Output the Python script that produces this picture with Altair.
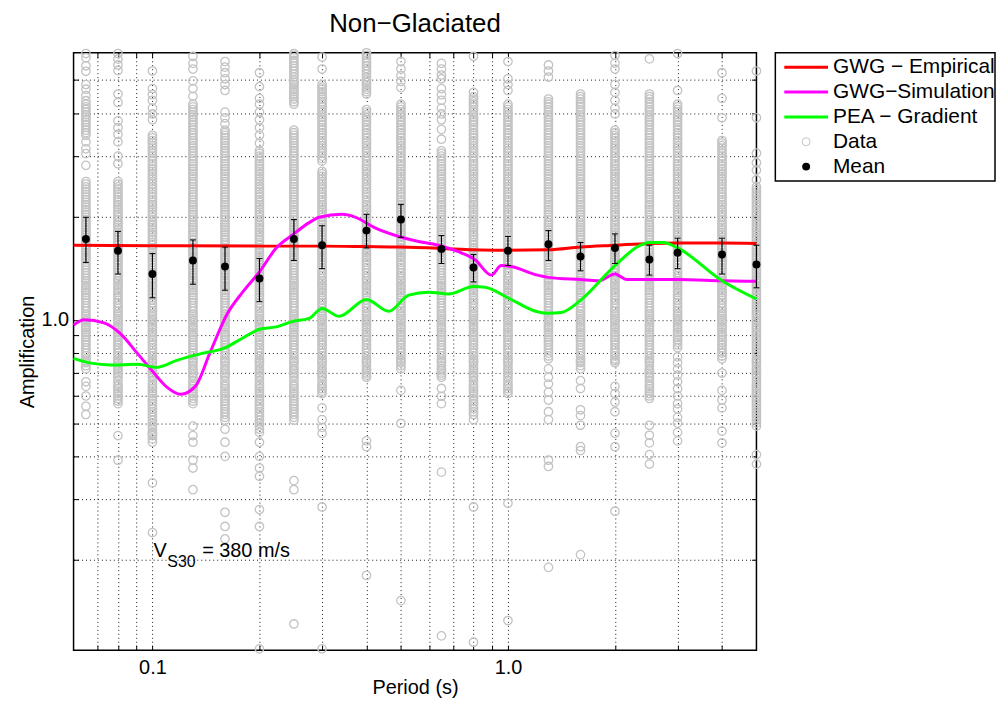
import altair as alt
import pandas as pd

FONT = "Liberation Sans"

# ---------------- data ----------------
PERIODS = [0.065, 0.08, 0.1, 0.13, 0.16, 0.2, 0.25, 0.3, 0.4, 0.5,
           0.65, 0.8, 1.0, 1.3, 1.6, 2.0, 2.5, 3.0, 4.0, 5.0]

A_0065 = [5.97, 5.8, 5.5, 5.3, 4.85, 4.7, 4.5, 4.35, 4.25, 4.1, 3.96, 3.83, 3.7, 3.57, 3.45, 3.3, 3.15, 3.05, 2.82, 2.53, 2.44, 2.36, 2.28, 2.2, 2.13, 2.06, 1.99, 1.92, 1.86, 1.8, 1.74, 1.68, 1.62, 1.57, 1.52, 1.47, 1.42, 1.37, 1.32, 1.28, 1.24, 1.2, 1.16, 1.12, 1.08, 1.04, 1.01, 0.98, 0.95, 0.92, 0.89, 0.86, 0.83, 0.8, 0.77, 0.75, 0.72, 0.66, 0.64, 0.6, 0.56, 0.53]
A_008 = [5.97, 5.75, 5.53, 5.33, 4.55, 4.3, 3.8, 3.63, 3.47, 3.3, 3.0, 2.85, 2.53, 2.44, 2.36, 2.28, 2.2, 2.13, 2.06, 1.99, 1.92, 1.86, 1.8, 1.74, 1.68, 1.62, 1.57, 1.52, 1.47, 1.42, 1.37, 1.32, 1.28, 1.24, 1.2, 1.16, 1.12, 1.08, 1.04, 1.01, 0.98, 0.95, 0.92, 0.89, 0.86, 0.83, 0.8, 0.77, 0.75, 0.72, 0.7, 0.68, 0.65, 0.63, 0.61, 0.59, 0.57, 0.46, 0.39]
A_010 = [5.31, 4.72, 4.53, 4.36, 4.14, 3.98, 3.83, 3.45, 3.33, 3.22, 3.11, 3.0, 2.9, 2.8, 2.71, 2.62, 2.53, 2.44, 2.36, 2.28, 2.2, 2.13, 2.06, 1.99, 1.92, 1.86, 1.8, 1.74, 1.68, 1.62, 1.57, 1.52, 1.47, 1.42, 1.37, 1.32, 1.28, 1.24, 1.2, 1.16, 1.12, 1.08, 1.04, 1.01, 0.98, 0.95, 0.92, 0.89, 0.86, 0.83, 0.8, 0.77, 0.75, 0.72, 0.7, 0.68, 0.65, 0.63, 0.61, 0.59, 0.57, 0.55, 0.53, 0.51, 0.49, 0.47, 0.46, 0.44, 0.335, 0.24]
A_013 = [5.86, 5.59, 5.38, 4.97, 4.72, 4.48, 4.25, 4.1, 3.96, 3.83, 3.7, 3.57, 3.45, 3.33, 3.22, 3.11, 3.0, 2.9, 2.8, 2.71, 2.62, 2.53, 2.44, 2.36, 2.28, 2.2, 2.13, 2.06, 1.99, 1.92, 1.86, 1.8, 1.74, 1.68, 1.62, 1.57, 1.52, 1.47, 1.42, 1.37, 1.32, 1.28, 1.24, 1.2, 1.16, 1.12, 1.08, 1.04, 1.01, 0.98, 0.95, 0.92, 0.89, 0.86, 0.83, 0.8, 0.77, 0.75, 0.72, 0.7, 0.68, 0.65, 0.63, 0.61, 0.59, 0.57, 0.49, 0.46, 0.44, 0.39, 0.37, 0.32]
A_016 = [5.66, 5.45, 5.25, 5.04, 4.85, 4.66, 4.03, 3.88, 3.73, 3.57, 3.45, 3.33, 3.22, 3.11, 3.0, 2.9, 2.8, 2.71, 2.62, 2.53, 2.44, 2.36, 2.28, 2.2, 2.13, 2.06, 1.99, 1.92, 1.86, 1.8, 1.74, 1.68, 1.62, 1.57, 1.52, 1.47, 1.42, 1.37, 1.32, 1.28, 1.24, 1.2, 1.16, 1.12, 1.08, 1.04, 1.01, 0.98, 0.95, 0.92, 0.89, 0.86, 0.83, 0.8, 0.77, 0.75, 0.72, 0.7, 0.68, 0.65, 0.63, 0.61, 0.59, 0.57, 0.55, 0.53, 0.51, 0.48, 0.44, 0.4, 0.275, 0.25, 0.23]
A_020 = [5.25, 4.78, 4.42, 4.25, 4.03, 3.83, 3.63, 3.45, 3.27, 3.11, 3.0, 2.9, 2.8, 2.71, 2.62, 2.53, 2.44, 2.36, 2.28, 2.2, 2.13, 2.06, 1.99, 1.92, 1.86, 1.8, 1.74, 1.68, 1.62, 1.57, 1.52, 1.47, 1.42, 1.37, 1.32, 1.28, 1.24, 1.2, 1.16, 1.12, 1.08, 1.04, 1.01, 0.98, 0.95, 0.92, 0.89, 0.86, 0.83, 0.8, 0.77, 0.75, 0.72, 0.7, 0.68, 0.65, 0.63, 0.61, 0.59, 0.57, 0.55, 0.53, 0.51, 0.49, 0.47, 0.44, 0.4, 0.37, 0.35, 0.28, 0.25, 0.11]
A_025 = [5.97, 5.8, 5.6, 5.4, 5.2, 5.0, 4.85, 4.7, 4.55, 4.4, 4.25, 3.57, 3.45, 3.33, 3.22, 3.11, 3.0, 2.9, 2.8, 2.71, 2.62, 2.53, 2.44, 2.36, 2.28, 2.2, 2.13, 2.06, 1.99, 1.92, 1.86, 1.8, 1.74, 1.68, 1.62, 1.57, 1.52, 1.47, 1.42, 1.37, 1.32, 1.28, 1.24, 1.2, 1.16, 1.12, 1.08, 1.04, 1.01, 0.98, 0.95, 0.92, 0.89, 0.86, 0.83, 0.8, 0.77, 0.75, 0.72, 0.7, 0.68, 0.65, 0.63, 0.61, 0.59, 0.57, 0.55, 0.53, 0.51, 0.34, 0.32, 0.13]
A_030 = [5.83, 5.38, 4.85, 4.7, 4.55, 4.4, 4.25, 4.1, 3.96, 3.83, 3.7, 3.57, 3.45, 3.33, 3.22, 3.11, 3.0, 2.9, 2.71, 2.62, 2.53, 2.44, 2.36, 2.28, 2.2, 2.13, 2.06, 1.99, 1.92, 1.86, 1.8, 1.74, 1.68, 1.62, 1.57, 1.52, 1.47, 1.42, 1.37, 1.32, 1.28, 1.24, 1.2, 1.16, 1.12, 1.08, 1.04, 1.01, 0.98, 0.95, 0.92, 0.89, 0.86, 0.83, 0.8, 0.77, 0.75, 0.72, 0.7, 0.68, 0.65, 0.63, 0.61, 0.554, 0.512, 0.486, 0.467, 0.285, 0.11]
A_040 = [6.0, 5.8, 5.6, 5.4, 5.2, 5.0, 4.85, 4.7, 4.55, 4.1, 3.96, 3.83, 3.7, 3.57, 3.45, 3.33, 3.22, 3.11, 3.0, 2.9, 2.8, 2.71, 2.62, 2.53, 2.44, 2.36, 2.28, 2.2, 2.13, 2.06, 1.99, 1.92, 1.86, 1.8, 1.74, 1.68, 1.62, 1.57, 1.52, 1.47, 1.42, 1.37, 1.32, 1.28, 1.24, 1.2, 1.16, 1.12, 1.08, 1.04, 1.01, 0.98, 0.95, 0.92, 0.89, 0.86, 0.83, 0.8, 0.77, 0.75, 0.72, 0.7, 0.68, 0.444, 0.427, 0.18]
A_050 = [5.66, 5.38, 5.15, 4.95, 4.75, 4.25, 4.1, 3.96, 3.83, 3.7, 3.57, 3.45, 3.33, 3.22, 3.11, 3.0, 2.9, 2.8, 2.71, 2.62, 2.53, 2.44, 2.36, 2.28, 2.2, 2.13, 2.06, 1.99, 1.92, 1.86, 1.8, 1.74, 1.68, 1.62, 1.57, 1.52, 1.47, 1.42, 1.37, 1.32, 1.28, 1.24, 1.2, 1.16, 1.12, 1.08, 1.04, 1.01, 0.98, 0.95, 0.92, 0.89, 0.86, 0.83, 0.8, 0.77, 0.75, 0.72, 0.623, 0.499, 0.152]
A_065 = [5.59, 5.38, 5.17, 5.04, 4.72, 4.53, 4.36, 4.14, 3.98, 3.83, 3.59, 3.36, 3.11, 3.0, 2.9, 2.8, 2.71, 2.62, 2.53, 2.44, 2.36, 2.28, 2.2, 2.13, 2.06, 1.99, 1.92, 1.86, 1.8, 1.74, 1.68, 1.62, 1.57, 1.52, 1.47, 1.42, 1.37, 1.32, 1.28, 1.24, 1.2, 1.16, 1.12, 1.08, 1.04, 1.01, 0.98, 0.95, 0.92, 0.89, 0.86, 0.83, 0.8, 0.77, 0.75, 0.72, 0.7, 0.68, 0.631, 0.599, 0.57, 0.36, 0.12]
A_080 = [5.86, 4.6, 4.4, 4.25, 4.1, 3.96, 3.83, 3.7, 3.57, 3.45, 3.33, 3.22, 3.11, 3.0, 2.9, 2.8, 2.71, 2.62, 2.53, 2.44, 2.36, 2.28, 2.2, 2.13, 2.06, 1.99, 1.92, 1.86, 1.8, 1.74, 1.68, 1.62, 1.57, 1.52, 1.47, 1.42, 1.37, 1.32, 1.28, 1.24, 1.2, 1.16, 1.12, 1.08, 1.04, 1.01, 0.98, 0.95, 0.92, 0.89, 0.86, 0.83, 0.8, 0.77, 0.75, 0.72, 0.7, 0.68, 0.65, 0.63, 0.61, 0.59, 0.57, 0.55, 0.53, 0.512, 0.285, 0.115]
A_100 = [5.66, 5.04, 4.85, 4.66, 4.25, 4.1, 3.96, 3.83, 3.7, 3.57, 3.45, 3.33, 3.22, 3.11, 3.0, 2.9, 2.8, 2.71, 2.62, 2.53, 2.44, 2.36, 2.28, 2.2, 2.13, 2.06, 1.99, 1.92, 1.86, 1.8, 1.74, 1.68, 1.62, 1.57, 1.52, 1.47, 1.42, 1.37, 1.32, 1.28, 1.24, 1.2, 1.16, 1.12, 1.08, 1.04, 1.01, 0.98, 0.95, 0.92, 0.89, 0.86, 0.83, 0.8, 0.77, 0.75, 0.72, 0.7, 0.68, 0.65, 0.63, 0.61, 0.292, 0.133]
A_130 = [5.53, 5.31, 5.1, 4.4, 4.25, 4.1, 3.96, 3.83, 3.7, 3.57, 3.45, 3.33, 3.22, 3.11, 3.0, 2.9, 2.8, 2.71, 2.62, 2.53, 2.44, 2.36, 2.28, 2.2, 2.13, 2.06, 1.99, 1.92, 1.86, 1.8, 1.74, 1.68, 1.62, 1.57, 1.52, 1.47, 1.42, 1.37, 1.32, 1.28, 1.24, 1.2, 1.16, 1.12, 1.08, 1.04, 1.01, 0.98, 0.95, 0.92, 0.89, 0.86, 0.83, 0.8, 0.77, 0.72, 0.68, 0.65, 0.615, 0.584, 0.54, 0.512, 0.39, 0.374, 0.19]
A_160 = [4.55, 4.4, 4.25, 4.1, 3.96, 3.83, 3.7, 3.57, 3.45, 3.33, 3.22, 3.11, 3.0, 2.9, 2.8, 2.71, 2.62, 2.53, 2.44, 2.36, 2.28, 2.2, 2.13, 2.06, 1.99, 1.92, 1.86, 1.8, 1.74, 1.68, 1.62, 1.57, 1.52, 1.47, 1.42, 1.37, 1.32, 1.28, 1.24, 1.2, 1.16, 1.12, 1.08, 1.04, 1.01, 0.98, 0.95, 0.92, 0.89, 0.86, 0.83, 0.8, 0.77, 0.75, 0.72, 0.665, 0.631, 0.547, 0.526, 0.493, 0.427, 0.416, 0.207]
A_200 = [5.89, 5.6, 5.38, 4.85, 4.6, 4.36, 4.14, 3.98, 3.57, 3.45, 3.33, 3.22, 3.11, 3.0, 2.9, 2.8, 2.71, 2.62, 2.53, 2.44, 2.36, 2.28, 2.2, 2.13, 2.06, 1.99, 1.92, 1.86, 1.8, 1.74, 1.68, 1.62, 1.57, 1.52, 1.47, 1.42, 1.37, 1.32, 1.28, 1.24, 1.2, 1.16, 1.12, 1.08, 1.04, 1.01, 0.98, 0.95, 0.92, 0.89, 0.86, 0.83, 0.8, 0.77, 0.75, 0.64, 0.61, 0.576, 0.54, 0.467, 0.427, 0.277]
A_250 = [5.76, 4.55, 4.4, 4.25, 4.1, 3.96, 3.83, 3.7, 3.57, 3.45, 3.33, 3.22, 3.11, 3.0, 2.9, 2.8, 2.71, 2.62, 2.53, 2.44, 2.36, 2.28, 2.2, 2.13, 2.06, 1.99, 1.92, 1.86, 1.8, 1.74, 1.68, 1.62, 1.57, 1.52, 1.47, 1.42, 1.37, 1.32, 1.28, 1.24, 1.2, 1.16, 1.12, 1.08, 1.04, 1.01, 0.98, 0.95, 0.92, 0.89, 0.86, 0.83, 0.8, 0.77, 0.75, 0.72, 0.7, 0.68, 0.65, 0.63, 0.61, 0.59, 0.493, 0.461, 0.438, 0.405, 0.38]
A_300 = [5.97, 4.66, 4.25, 4.1, 3.96, 3.83, 3.7, 3.57, 3.45, 3.33, 3.22, 3.11, 3.0, 2.9, 2.8, 2.71, 2.62, 2.53, 2.44, 2.36, 2.28, 2.2, 2.13, 2.06, 1.99, 1.92, 1.86, 1.8, 1.74, 1.68, 1.62, 1.57, 1.52, 1.47, 1.42, 1.37, 1.32, 1.28, 1.24, 1.2, 1.16, 1.12, 1.08, 1.04, 1.01, 0.98, 0.95, 0.92, 0.89, 0.86, 0.83, 0.78, 0.75, 0.72, 0.69, 0.66, 0.63, 0.6, 0.57, 0.55, 0.52, 0.5, 0.47, 0.444]
A_400 = [5.25, 4.42, 3.88, 3.33, 3.22, 3.11, 3.0, 2.9, 2.8, 2.71, 2.62, 2.53, 2.44, 2.36, 2.28, 2.2, 2.13, 2.06, 1.99, 1.92, 1.86, 1.8, 1.74, 1.68, 1.62, 1.57, 1.52, 1.47, 1.42, 1.37, 1.32, 1.28, 1.24, 1.2, 1.16, 1.12, 1.08, 1.04, 1.01, 0.98, 0.95, 0.92, 0.89, 0.86, 0.83, 0.8, 0.77, 0.7, 0.623, 0.584, 0.554, 0.474, 0.438]
A_500 = [5.31, 3.88, 3.06, 2.87, 2.73, 2.56, 2.44, 2.36, 2.28, 2.2, 2.13, 2.06, 1.99, 1.92, 1.86, 1.8, 1.74, 1.68, 1.62, 1.57, 1.52, 1.47, 1.42, 1.37, 1.32, 1.28, 1.24, 1.2, 1.16, 1.12, 1.08, 1.04, 1.01, 0.98, 0.95, 0.92, 0.89, 0.86, 0.83, 0.8, 0.77, 0.75, 0.72, 0.7, 0.68, 0.65, 0.63, 0.61, 0.59, 0.57, 0.55, 0.53, 0.51, 0.49, 0.405, 0.38]

# further observations filling the dense stretch of each column
C_0065 = [4.175, 4.03, 3.895, 3.765, 3.635, 3.51, 2.485, 2.40, 2.32, 2.24, 2.165, 2.095, 2.025, 1.955, 1.89, 1.83, 1.77, 1.71, 1.65, 1.595, 1.545, 1.495, 1.445, 1.395, 1.345, 1.3, 1.26, 1.22, 1.18, 1.14, 1.1, 1.06, 1.025, 0.995, 0.965, 0.935, 0.905, 0.875, 0.845, 0.815, 0.785, 0.76, 0.735]
C_008 = [2.485, 2.40, 2.32, 2.24, 2.165, 2.095, 2.025, 1.955, 1.89, 1.83, 1.77, 1.71, 1.65, 1.595, 1.545, 1.495, 1.445, 1.395, 1.345, 1.3, 1.26, 1.22, 1.18, 1.14, 1.1, 1.06, 1.025, 0.995, 0.965, 0.935, 0.905, 0.875, 0.845, 0.815, 0.785, 0.76, 0.735, 0.71, 0.69, 0.665, 0.64, 0.62, 0.6, 0.58]
C_010 = [3.39, 3.275, 3.165, 3.055, 2.95, 2.85, 2.755, 2.665, 2.575, 2.485, 2.40, 2.32, 2.24, 2.165, 2.095, 2.025, 1.955, 1.89, 1.83, 1.77, 1.71, 1.65, 1.595, 1.545, 1.495, 1.445, 1.395, 1.345, 1.3, 1.26, 1.22, 1.18, 1.14, 1.1, 1.06, 1.025, 0.995, 0.965, 0.935, 0.905, 0.875, 0.845, 0.815, 0.785, 0.76, 0.735, 0.71, 0.69, 0.665, 0.64, 0.62, 0.6, 0.58, 0.56, 0.54, 0.52, 0.5, 0.48, 0.465, 0.45]
C_013 = [4.175, 4.03, 3.895, 3.765, 3.635, 3.51, 3.39, 3.275, 3.165, 3.055, 2.95, 2.85, 2.755, 2.665, 2.575, 2.485, 2.40, 2.32, 2.24, 2.165, 2.095, 2.025, 1.955, 1.89, 1.83, 1.77, 1.71, 1.65, 1.595, 1.545, 1.495, 1.445, 1.395, 1.345, 1.3, 1.26, 1.22, 1.18, 1.14, 1.1, 1.06, 1.025, 0.995, 0.965, 0.935, 0.905, 0.875, 0.845, 0.815, 0.785, 0.76, 0.735, 0.71, 0.69, 0.665, 0.64, 0.62, 0.6, 0.58]
C_016 = [3.51, 3.39, 3.275, 3.165, 3.055, 2.95, 2.85, 2.755, 2.665, 2.575, 2.485, 2.40, 2.32, 2.24, 2.165, 2.095, 2.025, 1.955, 1.89, 1.83, 1.77, 1.71, 1.65, 1.595, 1.545, 1.495, 1.445, 1.395, 1.345, 1.3, 1.26, 1.22, 1.18, 1.14, 1.1, 1.06, 1.025, 0.995, 0.965, 0.935, 0.905, 0.875, 0.845, 0.815, 0.785, 0.76, 0.735, 0.71, 0.69, 0.665, 0.64, 0.62, 0.6, 0.58, 0.56, 0.54, 0.52]
C_020 = [3.055, 2.95, 2.85, 2.755, 2.665, 2.575, 2.485, 2.40, 2.32, 2.24, 2.165, 2.095, 2.025, 1.955, 1.89, 1.83, 1.77, 1.71, 1.65, 1.595, 1.545, 1.495, 1.445, 1.395, 1.345, 1.3, 1.26, 1.22, 1.18, 1.14, 1.1, 1.06, 1.025, 0.995, 0.965, 0.935, 0.905, 0.875, 0.845, 0.815, 0.785, 0.76, 0.735, 0.71, 0.69, 0.665, 0.64, 0.62, 0.6, 0.58, 0.56, 0.54, 0.52, 0.5, 0.48]
C_025 = [5.9, 5.7, 5.5, 5.3, 5.1, 4.92, 4.77, 4.62, 4.47, 4.32, 3.51, 3.39, 3.275, 3.165, 3.055, 2.95, 2.85, 2.755, 2.665, 2.575, 2.485, 2.40, 2.32, 2.24, 2.165, 2.095, 2.025, 1.955, 1.89, 1.83, 1.77, 1.71, 1.65, 1.595, 1.545, 1.495, 1.445, 1.395, 1.345, 1.3, 1.26, 1.22, 1.18, 1.14, 1.1, 1.06, 1.025, 0.995, 0.965, 0.935, 0.905, 0.875, 0.845, 0.815, 0.785, 0.76, 0.735, 0.71, 0.69, 0.665, 0.64, 0.62, 0.6, 0.58, 0.56, 0.54, 0.52]
C_030 = [4.77, 4.62, 4.47, 4.32, 4.175, 4.03, 3.895, 3.765, 3.635, 3.51, 3.39, 3.275, 3.165, 3.055, 2.95, 2.665, 2.575, 2.485, 2.40, 2.32, 2.24, 2.165, 2.095, 2.025, 1.955, 1.89, 1.83, 1.77, 1.71, 1.65, 1.595, 1.545, 1.495, 1.445, 1.395, 1.345, 1.3, 1.26, 1.22, 1.18, 1.14, 1.1, 1.06, 1.025, 0.995, 0.965, 0.935, 0.905, 0.875, 0.845, 0.815, 0.785, 0.76, 0.735, 0.71, 0.69, 0.665, 0.64, 0.62]
C_040 = [5.9, 5.7, 5.5, 5.3, 5.1, 4.92, 4.77, 4.62, 4.03, 3.895, 3.765, 3.635, 3.51, 3.39, 3.275, 3.165, 3.055, 2.95, 2.85, 2.755, 2.665, 2.575, 2.485, 2.40, 2.32, 2.24, 2.165, 2.095, 2.025, 1.955, 1.89, 1.83, 1.77, 1.71, 1.65, 1.595, 1.545, 1.495, 1.445, 1.395, 1.345, 1.3, 1.26, 1.22, 1.18, 1.14, 1.1, 1.06, 1.025, 0.995, 0.965, 0.935, 0.905, 0.875, 0.845, 0.815, 0.785, 0.76, 0.735, 0.71, 0.69]
C_050 = [4.175, 4.03, 3.895, 3.765, 3.635, 3.51, 3.39, 3.275, 3.165, 3.055, 2.95, 2.85, 2.755, 2.665, 2.575, 2.485, 2.40, 2.32, 2.24, 2.165, 2.095, 2.025, 1.955, 1.89, 1.83, 1.77, 1.71, 1.65, 1.595, 1.545, 1.495, 1.445, 1.395, 1.345, 1.3, 1.26, 1.22, 1.18, 1.14, 1.1, 1.06, 1.025, 0.995, 0.965, 0.935, 0.905, 0.875, 0.845, 0.815, 0.785, 0.76, 0.735]
C_065 = [3.055, 2.95, 2.85, 2.755, 2.665, 2.575, 2.485, 2.40, 2.32, 2.24, 2.165, 2.095, 2.025, 1.955, 1.89, 1.83, 1.77, 1.71, 1.65, 1.595, 1.545, 1.495, 1.445, 1.395, 1.345, 1.3, 1.26, 1.22, 1.18, 1.14, 1.1, 1.06, 1.025, 0.995, 0.965, 0.935, 0.905, 0.875, 0.845, 0.815, 0.785, 0.76, 0.735, 0.71, 0.69]
C_080 = [4.47, 4.32, 4.175, 4.03, 3.895, 3.765, 3.635, 3.51, 3.39, 3.275, 3.165, 3.055, 2.95, 2.85, 2.755, 2.665, 2.575, 2.485, 2.40, 2.32, 2.24, 2.165, 2.095, 2.025, 1.955, 1.89, 1.83, 1.77, 1.71, 1.65, 1.595, 1.545, 1.495, 1.445, 1.395, 1.345, 1.3, 1.26, 1.22, 1.18, 1.14, 1.1, 1.06, 1.025, 0.995, 0.965, 0.935, 0.905, 0.875, 0.845, 0.815, 0.785, 0.76, 0.735, 0.71, 0.69, 0.665, 0.64, 0.62, 0.6, 0.58, 0.56, 0.54]
C_100 = [4.175, 4.03, 3.895, 3.765, 3.635, 3.51, 3.39, 3.275, 3.165, 3.055, 2.95, 2.85, 2.755, 2.665, 2.575, 2.485, 2.40, 2.32, 2.24, 2.165, 2.095, 2.025, 1.955, 1.89, 1.83, 1.77, 1.71, 1.65, 1.595, 1.545, 1.495, 1.445, 1.395, 1.345, 1.3, 1.26, 1.22, 1.18, 1.14, 1.1, 1.06, 1.025, 0.995, 0.965, 0.935, 0.905, 0.875, 0.845, 0.815, 0.785, 0.76, 0.735, 0.71, 0.69, 0.665, 0.64, 0.62]
C_130 = [4.32, 4.175, 4.03, 3.895, 3.765, 3.635, 3.51, 3.39, 3.275, 3.165, 3.055, 2.95, 2.85, 2.755, 2.665, 2.575, 2.485, 2.40, 2.32, 2.24, 2.165, 2.095, 2.025, 1.955, 1.89, 1.83, 1.77, 1.71, 1.65, 1.595, 1.545, 1.495, 1.445, 1.395, 1.345, 1.3, 1.26, 1.22, 1.18, 1.14, 1.1, 1.06, 1.025, 0.995, 0.965, 0.935, 0.905, 0.875, 0.845, 0.815, 0.785]
C_160 = [4.47, 4.32, 4.175, 4.03, 3.895, 3.765, 3.635, 3.51, 3.39, 3.275, 3.165, 3.055, 2.95, 2.85, 2.755, 2.665, 2.575, 2.485, 2.40, 2.32, 2.24, 2.165, 2.095, 2.025, 1.955, 1.89, 1.83, 1.77, 1.71, 1.65, 1.595, 1.545, 1.495, 1.445, 1.395, 1.345, 1.3, 1.26, 1.22, 1.18, 1.14, 1.1, 1.06, 1.025, 0.995, 0.965, 0.935, 0.905, 0.875, 0.845, 0.815, 0.785, 0.76, 0.735]
C_200 = [3.51, 3.39, 3.275, 3.165, 3.055, 2.95, 2.85, 2.755, 2.665, 2.575, 2.485, 2.40, 2.32, 2.24, 2.165, 2.095, 2.025, 1.955, 1.89, 1.83, 1.77, 1.71, 1.65, 1.595, 1.545, 1.495, 1.445, 1.395, 1.345, 1.3, 1.26, 1.22, 1.18, 1.14, 1.1, 1.06, 1.025, 0.995, 0.965, 0.935, 0.905, 0.875, 0.845, 0.815, 0.785, 0.76]
C_250 = [4.47, 4.32, 4.175, 4.03, 3.895, 3.765, 3.635, 3.51, 3.39, 3.275, 3.165, 3.055, 2.95, 2.85, 2.755, 2.665, 2.575, 2.485, 2.40, 2.32, 2.24, 2.165, 2.095, 2.025, 1.955, 1.89, 1.83, 1.77, 1.71, 1.65, 1.595, 1.545, 1.495, 1.445, 1.395, 1.345, 1.3, 1.26, 1.22, 1.18, 1.14, 1.1, 1.06, 1.025, 0.995, 0.965, 0.935, 0.905, 0.875, 0.845, 0.815, 0.785, 0.76, 0.735, 0.71, 0.69, 0.665, 0.64, 0.62, 0.6]
C_300 = [4.175, 4.03, 3.895, 3.765, 3.635, 3.51, 3.39, 3.275, 3.165, 3.055, 2.95, 2.85, 2.755, 2.665, 2.575, 2.485, 2.40, 2.32, 2.24, 2.165, 2.095, 2.025, 1.955, 1.89, 1.83, 1.77, 1.71, 1.65, 1.595, 1.545, 1.495, 1.445, 1.395, 1.345, 1.3, 1.26, 1.22, 1.18, 1.14, 1.1, 1.06, 1.025, 0.995, 0.965, 0.935, 0.905, 0.875, 0.845]
C_400 = [3.275, 3.165, 3.055, 2.95, 2.85, 2.755, 2.665, 2.575, 2.485, 2.40, 2.32, 2.24, 2.165, 2.095, 2.025, 1.955, 1.89, 1.83, 1.77, 1.71, 1.65, 1.595, 1.545, 1.495, 1.445, 1.395, 1.345, 1.3, 1.26, 1.22, 1.18, 1.14, 1.1, 1.06, 1.025, 0.995, 0.965, 0.935, 0.905, 0.875, 0.845, 0.815, 0.785]
C_500 = [2.40, 2.32, 2.24, 2.165, 2.095, 2.025, 1.955, 1.89, 1.83, 1.77, 1.71, 1.65, 1.595, 1.545, 1.495, 1.445, 1.395, 1.345, 1.3, 1.26, 1.22, 1.18, 1.14, 1.1, 1.06, 1.025, 0.995, 0.965, 0.935, 0.905, 0.875, 0.845, 0.815, 0.785, 0.76, 0.735, 0.71, 0.69, 0.665, 0.64, 0.62, 0.6, 0.58, 0.56, 0.54, 0.52, 0.5]

DATA_COLUMNS = [A_0065, A_008, A_010, A_013, A_016, A_020, A_025, A_030, A_040, A_050,
                A_065, A_080, A_100, A_130, A_160, A_200, A_250, A_300, A_400, A_500]
CORE_COLUMNS = [C_0065, C_008, C_010, C_013, C_016, C_020, C_025, C_030, C_040, C_050,
                C_065, C_080, C_100, C_130, C_160, C_200, C_250, C_300, C_400, C_500]

MEAN = [1.72, 1.59, 1.36, 1.49, 1.43, 1.32, 1.72, 1.65, 1.82, 1.96,
        1.61, 1.42, 1.59, 1.66, 1.53, 1.62, 1.50, 1.57, 1.55, 1.45]
MEAN_LO = [1.47, 1.36, 1.16, 1.27, 1.22, 1.13, 1.49, 1.41, 1.62, 1.74,
           1.46, 1.29, 1.44, 1.49, 1.39, 1.46, 1.35, 1.41, 1.36, 1.24]
MEAN_HI = [1.99, 1.81, 1.56, 1.71, 1.63, 1.51, 1.96, 1.88, 2.03, 2.17,
           1.76, 1.55, 1.75, 1.82, 1.68, 1.78, 1.65, 1.73, 1.73, 1.65]

EMP_T = [0.06, 0.1, 0.2, 0.3, 0.4, 0.5, 0.65, 0.8, 0.95, 1.3, 1.6, 2.0, 2.5, 3.0, 4.0, 5.0]
EMP_A = [1.65, 1.645, 1.64, 1.64, 1.635, 1.63, 1.615, 1.60, 1.595, 1.60, 1.63, 1.65, 1.67, 1.675, 1.675, 1.67]

SIM_T = [0.06, 0.0643, 0.0731, 0.0814, 0.0906, 0.0987, 0.11, 0.12, 0.132, 0.145, 0.162, 0.18,
         0.2, 0.223, 0.248, 0.276, 0.2946, 0.342, 0.373, 0.4245, 0.493, 0.549, 0.637, 0.725,
         0.807, 0.898, 0.958, 1.02, 1.21, 1.3, 1.6, 1.8, 2.0, 2.16, 3.0, 4.0, 5.0]
SIM_A = [0.965, 1.0, 0.98, 0.91, 0.80, 0.72, 0.636, 0.607, 0.64, 0.80, 1.037, 1.21,
         1.38, 1.62, 1.77, 1.92, 1.99, 2.03, 1.99, 1.85, 1.75, 1.70, 1.65, 1.58,
         1.50, 1.35, 1.44, 1.43, 1.35, 1.33, 1.31, 1.30, 1.36, 1.31, 1.31, 1.30, 1.295]

PEA_T = [0.06, 0.0671, 0.0764, 0.0906, 0.103, 0.117, 0.139, 0.158, 0.18, 0.2, 0.223, 0.248,
         0.276, 0.30, 0.335, 0.40, 0.462, 0.526, 0.598, 0.68, 0.80, 0.861, 1.0, 1.21, 1.30,
         1.41, 1.60, 2.0, 2.36, 2.5, 2.74, 3.0, 4.0, 5.0]
PEA_A = [0.772, 0.748, 0.739, 0.742, 0.727, 0.762, 0.80, 0.824, 0.887, 0.939, 0.954, 0.99,
         1.01, 1.08, 1.024, 1.146, 1.059, 1.18, 1.204, 1.19, 1.25, 1.245, 1.16, 1.056, 1.045,
         1.05, 1.14, 1.44, 1.65, 1.68, 1.68, 1.62, 1.30, 1.15]

SERIES = ["GWG − Empirical", "GWG−Simulation", "PEA − Gradient"]
SERIES_COLORS = ["#ff0000", "#ff00ff", "#00ff00"]
LEGEND_LABELS = SERIES + ["Data", "Mean"]
LEGEND_KIND = ["line", "line", "line", "open", "filled"]

TITLE = "Non−Glaciated"
X_TITLE = "Period (s)"
Y_TITLE = "Amplification"
X_GRID = [0.07, 0.08, 0.09, 0.1, 0.2, 0.3, 0.4, 0.5, 0.6, 0.7, 0.8, 0.9, 1, 2, 3, 4]
Y_GRID = [0.2, 0.3, 0.4, 0.5, 0.6, 0.7, 0.8, 0.9, 1, 2, 3, 4, 5]
VS_PERIOD, VS_AMP = 0.1, 0.2

GREY = "#c3c3c3"

# ---------------- frames ----------------
pts_rows = []
for p, col, core in zip(PERIODS, DATA_COLUMNS, CORE_COLUMNS):
    for v in col + core:
        pts_rows.append({"period": p, "amp": v})
df_pts = pd.DataFrame(pts_rows)

df_lines = pd.concat([
    pd.DataFrame({"period": EMP_T, "amp": EMP_A, "series": SERIES[0]}),
    pd.DataFrame({"period": SIM_T, "amp": SIM_A, "series": SERIES[1]}),
    pd.DataFrame({"period": PEA_T, "amp": PEA_A, "series": SERIES[2]}),
], ignore_index=True)

df_mean = pd.DataFrame({"period": PERIODS, "amp": MEAN, "lo": MEAN_LO, "hi": MEAN_HI})
df_caps = pd.DataFrame({"period": PERIODS + PERIODS, "amp": MEAN_LO + MEAN_HI})
df_vs = pd.DataFrame({"period": [VS_PERIOD], "amp": [VS_AMP]})
df_leg = pd.DataFrame({"label": LEGEND_LABELS, "kind": LEGEND_KIND})

# ---------------- scales / axes ----------------
xscale = alt.Scale(type="log", domain=[0.06, 5], nice=False)
yscale = alt.Scale(type="log", domain=[0.109, 6], nice=False)
color_scale = alt.Scale(domain=SERIES, range=SERIES_COLORS)

common_axis = dict(
    grid=True, gridDash=[1, 3], gridColor="#000000", gridWidth=1, gridOpacity=0.9,
    domain=False, ticks=True, tickSize=5, tickColor="#000000", tickWidth=1, offset=-5,
    labelFontSize=20, titleFontSize=20, titleFontWeight="normal", labelFont=FONT,
    titleFont=FONT, labelColor="#000000", titleColor="#000000",
    labelOverlap=False, labelFlush=False,
)

xaxis = alt.Axis(
    title=X_TITLE, values=X_GRID, orient="bottom",
    labelExpr="datum.value == 0.1 ? '0.1' : (datum.value == 1 ? '1.0' : '')",
    labelPadding=7, titlePadding=1, **common_axis,
)
yaxis = alt.Axis(
    title=Y_TITLE, values=Y_GRID, orient="left",
    labelExpr="datum.value == 1 ? '1.0' : ''",
    labelPadding=5, titlePadding=3, **common_axis,
)
# inward ticks on the top and right edges of the box
xaxis_top = alt.Axis(
    orient="top", values=X_GRID, title="", labels=False, grid=False, domain=False,
    ticks=True, tickSize=5, tickColor="#000000", tickWidth=1, offset=-5,
)
yaxis_right = alt.Axis(
    orient="right", values=Y_GRID, title="", labels=False, grid=False, domain=False,
    ticks=True, tickSize=5, tickColor="#000000", tickWidth=1, offset=-5,
)

XN = alt.X("period:Q", axis=None)


def yn(field):
    return alt.Y(field, axis=None)


points = alt.Chart(df_pts).mark_point(
    filled=False, size=72, color=GREY, strokeWidth=1.3, opacity=1
).encode(
    x=alt.X("period:Q", scale=xscale, axis=xaxis),
    y=alt.Y("amp:Q", scale=yscale, axis=yaxis),
)

edge_ticks = alt.Chart(df_mean).mark_point(opacity=0).encode(
    x=alt.X("period:Q", axis=xaxis_top),
    y=alt.Y("amp:Q", axis=yaxis_right),
)

lines = alt.Chart(df_lines).mark_line(strokeWidth=3, interpolate="monotone").encode(
    x=XN, y=yn("amp:Q"),
    color=alt.Color("series:N", scale=color_scale, legend=None),
)

bars = alt.Chart(df_mean).mark_rule(color="black", strokeWidth=1.2).encode(
    x=XN, y=yn("lo:Q"), y2="hi:Q"
)
caps = alt.Chart(df_caps).mark_tick(
    orient="horizontal", size=6, thickness=1, color="black", opacity=1
).encode(x=XN, y=yn("amp:Q"))

means = alt.Chart(df_mean).mark_point(
    filled=True, size=64, color="black", opacity=1
).encode(x=XN, y=yn("amp:Q"))

vs_v = alt.Chart(df_vs).mark_text(
    text="V", align="left", baseline="alphabetic", fontSize=20, font=FONT, dx=1, dy=-3, color="black"
).encode(x=XN, y=yn("amp:Q"))
vs_sub = alt.Chart(df_vs).mark_text(
    text="S30", align="left", baseline="alphabetic", fontSize=16, font=FONT, dx=15, dy=7, color="black"
).encode(x=XN, y=yn("amp:Q"))
vs_rest = alt.Chart(df_vs).mark_text(
    text="= 380 m/s", align="left", baseline="alphabetic", fontSize=20, font=FONT, dx=50, dy=-3, color="black"
).encode(x=XN, y=yn("amp:Q"))

main = alt.layer(points, edge_ticks, lines, bars, caps, means, vs_v, vs_sub, vs_rest).resolve_axis(
    x="independent", y="independent"
).properties(
    width=687, height=601,
    title=alt.TitleParams(
        text=TITLE, fontSize=26, fontWeight="normal", font=FONT, color="black",
        frame="group", anchor="middle", offset=-12, baseline="alphabetic",
    ),
)

# ---------------- legend panel ----------------
ly = alt.Y("label:N", scale=alt.Scale(type="point", domain=LEGEND_LABELS, padding=0.58), axis=None)
leg_base = alt.Chart(df_leg)
leg_lines = leg_base.transform_filter("datum.kind == 'line'").mark_rule(strokeWidth=3).encode(
    x=alt.value(9), x2=alt.value(53), y=ly,
    color=alt.Color("label:N", scale=color_scale, legend=None),
)
leg_open = leg_base.transform_filter("datum.kind == 'open'").mark_point(
    filled=False, size=64, color=GREY, strokeWidth=1, opacity=1
).encode(x=alt.value(31), y=ly)
leg_fill = leg_base.transform_filter("datum.kind == 'filled'").mark_point(
    filled=True, size=64, color="black", opacity=1
).encode(x=alt.value(31), y=ly)
leg_text = leg_base.mark_text(
    align="left", baseline="middle", fontSize=21, font=FONT, color="black"
).encode(x=alt.value(58), y=ly, text="label:N")

legend = alt.layer(leg_lines, leg_open, leg_fill, leg_text).properties(width=221, height=129)

chart = alt.hconcat(main, legend, spacing=10).properties(
    padding={"left": 17, "top": 8, "right": 1, "bottom": 4}
).configure(font=FONT).configure_view(stroke="black", strokeWidth=1.5)

chart.save("out.html", embed_options={"renderer": "svg", "actions": False})
